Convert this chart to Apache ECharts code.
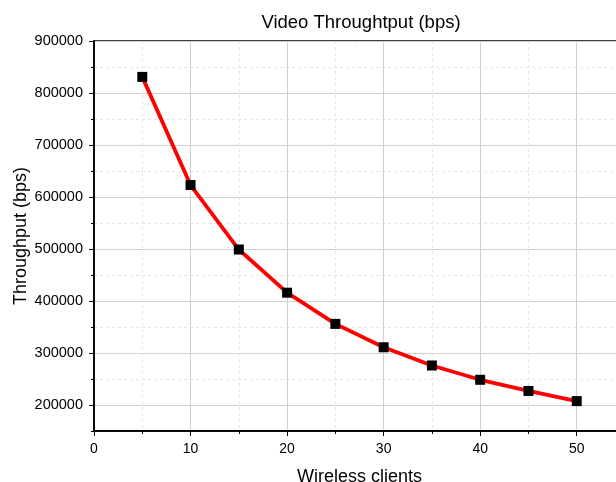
<!DOCTYPE html>
<html>
<head>
<meta charset="utf-8">
<script src="https://cdn.jsdelivr.net/npm/echarts@6/dist/echarts.min.js"></script>
<style>
  html, body { margin: 0; padding: 0; background: #fff; }
  #chart { width: 616px; height: 482px; }
</style>
</head>
<body>
<div id="chart"></div>
<script>
var clients = [5, 10, 15, 20, 25, 30, 35, 40, 45, 50];
var throughput = [831000, 623000, 499000, 416000, 356000, 311000, 276000, 248500, 227000, 207500];

var chartDom = document.getElementById('chart');
var myChart = echarts.init(chartDom);
var font = 'Liberation Sans, Arial, sans-serif';

var points = clients.map(function (c, i) { return [c, throughput[i]]; });

var option = {
  animation: false,
  title: {
    text: 'Video Throughtput (bps)',
    left: 356,
    textAlign: 'center',
    top: 8,
    textStyle: { color: '#000', fontSize: 18.5, fontWeight: 'normal', fontFamily: font }
  },
  grid: {
    left: 94, top: 41, right: -9, bottom: 51,
    outerBoundsMode: 'none',
    containLabel: false,
    show: true, borderColor: '#000', borderWidth: 1.5
  },
  xAxis: [
    {
      type: 'value', min: 0, max: 55, interval: 5,
      axisLine: { show: true, lineStyle: { color: '#000', width: 1.5 } },
      axisTick: { show: true, length: 3, lineStyle: { color: '#000' } },
      axisLabel: { show: false },
      splitLine: { show: true, lineStyle: { color: '#e6e6e6', type: [3, 3], width: 1 } }
    },
    {
      type: 'value', min: 0, max: 55, interval: 10, position: 'bottom',
      name: 'Wireless clients', nameLocation: 'middle', nameGap: 37,
      nameTextStyle: { color: '#000', fontSize: 18, fontFamily: font },
      axisLine: { show: true, lineStyle: { color: '#000', width: 1.5 } },
      axisTick: { show: true, length: 5, lineStyle: { color: '#000' } },
      axisLabel: { color: '#000', fontSize: 14, fontFamily: font, margin: 11 },
      splitLine: { show: true, lineStyle: { color: '#cfcfcf', width: 1 } }
    }
  ],
  yAxis: [
    {
      type: 'value', min: 150000, max: 900000, interval: 50000,
      axisLine: { show: true, lineStyle: { color: '#000', width: 1.5 } },
      axisTick: { show: true, length: 3, lineStyle: { color: '#000' } },
      axisLabel: { show: false },
      splitLine: { show: true, lineStyle: { color: '#e6e6e6', type: [3, 3], width: 1 } }
    },
    {
      type: 'value', min: 150000, max: 900000, minInterval: 100000, maxInterval: 100000,
      position: 'left',
      name: 'Throughput (bps)', nameLocation: 'middle', nameGap: 64,
      nameMoveOverlap: false,
      nameTextStyle: { color: '#000', fontSize: 18, fontFamily: font },
      axisLine: { show: true, lineStyle: { color: '#000', width: 1.5 } },
      axisTick: { show: true, length: 5, lineStyle: { color: '#000' } },
      axisLabel: {
        color: '#000', fontSize: 14.5, fontFamily: font, margin: 11, showMinLabel: false,
        formatter: function (v) { return String(v); }
      },
      splitLine: { show: true, lineStyle: { color: '#cfcfcf', width: 1 } }
    }
  ],
  series: [
    {
      type: 'line',
      xAxisIndex: 1,
      yAxisIndex: 1,
      data: points,
      symbol: 'rect',
      symbolSize: 10,
      itemStyle: { color: '#000' },
      lineStyle: { color: '#ff0000', width: 3.8 },
      z: 5
    }
  ]
};

option && myChart.setOption(option);
</script>
</body>
</html>
